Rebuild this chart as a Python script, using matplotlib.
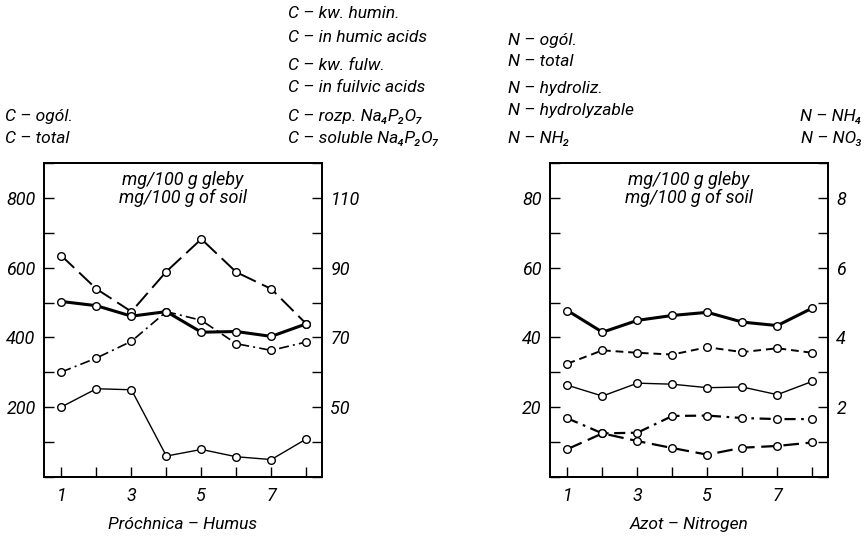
import matplotlib
matplotlib.use('Agg')
import matplotlib.pyplot as plt
import numpy as np

# sample number
samples = [1, 2, 3, 4, 5, 6, 7, 8]

# Prochnica - Humus (mg/100 g soil)
c_total = [503, 491, 461, 474, 415, 417, 403, 439]          # left axis
c_humic = [93.4, 83.9, 77.4, 88.9, 98.2, 88.7, 83.9, 73.9]  # right axis
c_fulvic = [60.1, 64.1, 68.9, 77.4, 74.9, 68.2, 66.3, 68.7]
c_soluble = [50.1, 55.3, 55.0, 36.0, 37.9, 35.8, 35.0, 40.9]

# Azot - Nitrogen (mg/100 g soil)
n_total = [47.7, 41.5, 44.9, 46.3, 47.2, 44.4, 43.4, 48.4]   # left axis
n_hydro = [32.5, 36.3, 35.6, 35.1, 37.2, 35.8, 36.9, 35.6]
n_nh2 = [26.3, 23.2, 26.9, 26.6, 25.6, 25.8, 23.6, 27.4]
n_nh4 = [1.68, 1.25, 1.27, 1.75, 1.76, 1.69, 1.66, 1.66]     # right axis
n_no3 = [0.80, 1.25, 1.03, 0.83, 0.64, 0.84, 0.89, 0.99]

plt.rcParams['font.family'] = ['Roboto', 'DejaVu Sans']
plt.rcParams['font.style'] = 'italic'

W, H = 868, 537
fig = plt.figure(figsize=(W / 100, H / 100), dpi=100)


def px(x, y):
    return x / W, 1 - y / H


mk = dict(marker='o', markersize=5.5, markerfacecolor='white',
          markeredgecolor='black', markeredgewidth=1.0, color='black')
FS = 12.5


def style_axis(ax, ticks, labels):
    ax.set_yticks(ticks)
    ax.set_yticklabels(labels, fontsize=FS + 0.5, style='italic')
    ax.tick_params(axis='y', direction='in', length=7, width=1, pad=6)
    for s in ax.spines.values():
        s.set_linewidth(1.3)


def make_panel(rect, left_lim, right_lim, left_step, right_step,
               left_lab, right_lab, xlabel):
    ax = fig.add_axes(rect)
    ax.set_xlim(0.5, 8.45)
    ax.set_ylim(*left_lim)
    lt = np.arange(left_lim[0], left_lim[1] + 0.01, left_step)
    style_axis(ax, lt, [str(int(t)) if int(t) in left_lab else '' for t in lt])
    ax.set_xticks(samples)
    ax.set_xticklabels([str(s) if s % 2 == 1 else '' for s in samples],
                       fontsize=FS + 0.5, style='italic')
    ax.tick_params(axis='x', direction='in', length=7, width=1, pad=7)
    ax.set_xlabel(xlabel, fontsize=FS, style='italic', labelpad=9)
    ax2 = ax.twinx()
    ax2.set_ylim(*right_lim)
    rt = np.arange(right_lim[0], right_lim[1] + 0.001, right_step)
    style_axis(ax2, rt, [str(int(round(t))) if int(round(t)) in right_lab else '' for t in rt])
    ax.text(0.5, 0.975, 'mg/100 g gleby\nmg/100 g of soil', transform=ax.transAxes,
            ha='center', va='top', fontsize=FS + 0.5, style='italic', linespacing=1.0)
    return ax, ax2


# Left panel
axL, axL2 = make_panel([44 / W, 1 - 477 / H, 278 / W, 314 / H],
                       (0, 900), (30, 120), 100, 10,
                       [200, 400, 600, 800], [50, 70, 90, 110],
                       'Próchnica – Humus')
axL2.plot(samples, c_humic, linewidth=1.4, dashes=(9, 3.5), **mk)
axL2.plot(samples, c_fulvic, linewidth=1.2, dashes=(6, 2.5, 1.2, 2.5), **mk)
axL2.plot(samples, c_soluble, linewidth=1.0, **mk)
axL.plot(samples, c_total, linewidth=2.2, zorder=3, **mk)
axL.set_zorder(axL2.get_zorder() + 1)
axL.patch.set_visible(False)

# Right panel
axR, axR2 = make_panel([550 / W, 1 - 477 / H, 278 / W, 314 / H],
                       (0, 90), (0, 9), 10, 1,
                       [20, 40, 60, 80], [2, 4, 6, 8],
                       'Azot – Nitrogen')
axR.plot(samples, n_total, linewidth=2.2, **mk)
axR.plot(samples, n_hydro, linewidth=1.4, dashes=(4, 2.5), **mk)
axR.plot(samples, n_nh2, linewidth=1.0, **mk)
axR2.plot(samples, n_nh4, linewidth=1.6, dashes=(5, 2.5, 1.2, 2.5), **mk)
axR2.plot(samples, n_no3, linewidth=1.6, dashes=(7, 3), **mk)


# header labels
def label(x, y, s, ha='left'):
    fig.text(*px(x, y), s, fontsize=FS, style='italic', ha=ha, va='center')


label(5, 116, 'C – ogól.')
label(5, 138, 'C – total')

label(288, 14, 'C – kw. humin.')
label(288, 38, 'C – in humic acids')
label(288, 66, 'C – kw. fulw.')
label(288, 88, 'C – in fuilvic acids')
label(288, 116, 'C – rozp. Na₄P₂O₇')
label(288, 138, 'C – soluble Na₄P₂O₇')

label(508, 41, 'N – ogól.')
label(508, 62, 'N – total')
label(508, 88, 'N – hydroliz.')
label(508, 110, 'N – hydrolyzable')
label(508, 138, 'N – NH₂')

label(862, 116, 'N – NH₄', ha='right')
label(862, 138, 'N – NO₃', ha='right')

plt.savefig('out.png', dpi=100)
